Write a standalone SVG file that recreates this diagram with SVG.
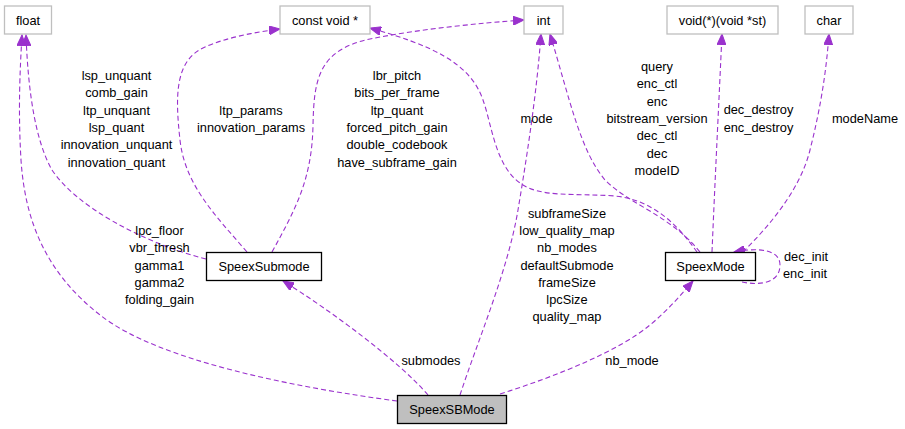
<svg xmlns="http://www.w3.org/2000/svg" width="905" height="429" viewBox="0 0 905 429">
<style>
text{font-family:"Liberation Sans",Arial,Helvetica,sans-serif;font-size:12.8px;fill:#000;text-anchor:middle}
.ext{fill:#fff;stroke:#bfbfbf;stroke-width:1.3}
.cls{fill:#fff;stroke:#000;stroke-width:1.3}
.cur{fill:#bfbfbf;stroke:#000;stroke-width:1.3}
.e{fill:none;stroke:#9a32cd;stroke-width:1.1;stroke-dasharray:5,3;marker-end:url(#ah)}
</style>
<defs>
<marker id="ah" markerUnits="userSpaceOnUse" markerWidth="12" markerHeight="9" refX="11" refY="4.5" orient="auto">
<path d="M0,0 L11,4.5 L0,9 z" fill="#9a32cd" stroke="#9a32cd" stroke-width="1"/>
</marker>
</defs>
<rect width="905" height="429" fill="#fff"/>
<g id="connectors">
<path class="e" d="M206,259 C140,242 75,205 52,170 C35,140 28,90 26,35"/>
<path class="e" d="M397,401 C300,388 160,362 100,315 C45,272 25,220 21,160 C18,110 20,70 22,35"/>
<path class="e" d="M247,252 C215,215 185,185 180,140 C175,95 175,60 205,47 C225,38 255,32 280,29"/>
<path class="e" d="M272,252 C295,210 312,180 313,125 C314,80 318,50 370,39 C420,29 480,23 524,20"/>
<path class="e" d="M697,252 C680,228 655,200 615,196 C575,193 540,198 520,183 C495,165 492,125 483,100 C470,62 430,45 370,28"/>
<path class="e" d="M700,252 C670,215 630,205 605,180 C580,150 570,100 550,34"/>
<path class="e" d="M460,395 C478,340 508,270 518,210 C528,150 537,90 541,34"/>
<path class="e" d="M712,252 C715,180 719,100 722,34"/>
<path class="e" d="M743,252 C770,225 800,190 810,150 C820,110 826,75 829,34"/>
<path class="e" d="M742,282 C762,286 780,282 780,265 C780,250 760,247 734,252"/>
<path class="e" d="M428,395 C400,362 330,310 283,281"/>
<path class="e" d="M500,394 C560,375 620,350 650,325 C668,310 680,296 693,281"/>
</g>
<g id="labels">
<text x="116.5" y="80">lsp_unquant</text>
<text x="116.5" y="97.3">comb_gain</text>
<text x="116.5" y="114.7">ltp_unquant</text>
<text x="116.5" y="132">lsp_quant</text>
<text x="116.5" y="149.3">innovation_unquant</text>
<text x="116.5" y="166.7">innovation_quant</text>
<text x="251" y="114.7">ltp_params</text>
<text x="251" y="132">innovation_params</text>
<text x="397" y="80">lbr_pitch</text>
<text x="397" y="97.3">bits_per_frame</text>
<text x="397" y="114.7">ltp_quant</text>
<text x="397" y="132">forced_pitch_gain</text>
<text x="397" y="149.3">double_codebook</text>
<text x="397" y="166.7">have_subframe_gain</text>
<text x="536.5" y="122.5">mode</text>
<text x="657" y="71">query</text>
<text x="657" y="88.3">enc_ctl</text>
<text x="657" y="105.6">enc</text>
<text x="657" y="122.9">bitstream_version</text>
<text x="657" y="140.2">dec_ctl</text>
<text x="657" y="157.5">dec</text>
<text x="657" y="174.8">modeID</text>
<text x="758.5" y="114.4">dec_destroy</text>
<text x="758.5" y="131.7">enc_destroy</text>
<text x="865" y="123">modeName</text>
<text x="159.5" y="235">lpc_floor</text>
<text x="159.5" y="252.3">vbr_thresh</text>
<text x="159.5" y="269.6">gamma1</text>
<text x="159.5" y="286.9">gamma2</text>
<text x="159.5" y="304.2">folding_gain</text>
<text x="567" y="217.6">subframeSize</text>
<text x="567" y="234.9">low_quality_map</text>
<text x="567" y="252.2">nb_modes</text>
<text x="567" y="269.5">defaultSubmode</text>
<text x="567" y="286.8">frameSize</text>
<text x="567" y="304.1">lpcSize</text>
<text x="567" y="321.4">quality_map</text>
<text x="806" y="261">dec_init</text>
<text x="805" y="278.3">enc_init</text>
<text x="431" y="365">submodes</text>
<text x="632" y="365">nb_mode</text>
</g>
<g id="node-float"><rect class="ext" x="4.5" y="6" width="47" height="28"/><text x="28" y="24.5">float</text></g>
<g id="node-constvoid"><rect class="ext" x="280" y="6" width="90" height="28"/><text x="325" y="24.5">const void *</text></g>
<g id="node-int"><rect class="ext" x="524" y="6" width="39" height="28"/><text x="543.5" y="24.5">int</text></g>
<g id="node-voidfn"><rect class="ext" x="667" y="6" width="111" height="28"/><text x="722.5" y="24.5">void(*)(void *st)</text></g>
<g id="node-char"><rect class="ext" x="805" y="6" width="48" height="28"/><text x="829" y="24.5">char</text></g>
<g id="node-SpeexSubmode"><rect class="cls" x="206.5" y="252.5" width="115" height="28"/><text x="264" y="271">SpeexSubmode</text></g>
<g id="node-SpeexMode"><rect class="cls" x="665.5" y="252.5" width="90" height="28"/><text x="710.5" y="271">SpeexMode</text></g>
<g id="node-SpeexSBMode"><rect class="cur" x="397.5" y="395.5" width="109" height="28"/><text x="452" y="414">SpeexSBMode</text></g>
</svg>
